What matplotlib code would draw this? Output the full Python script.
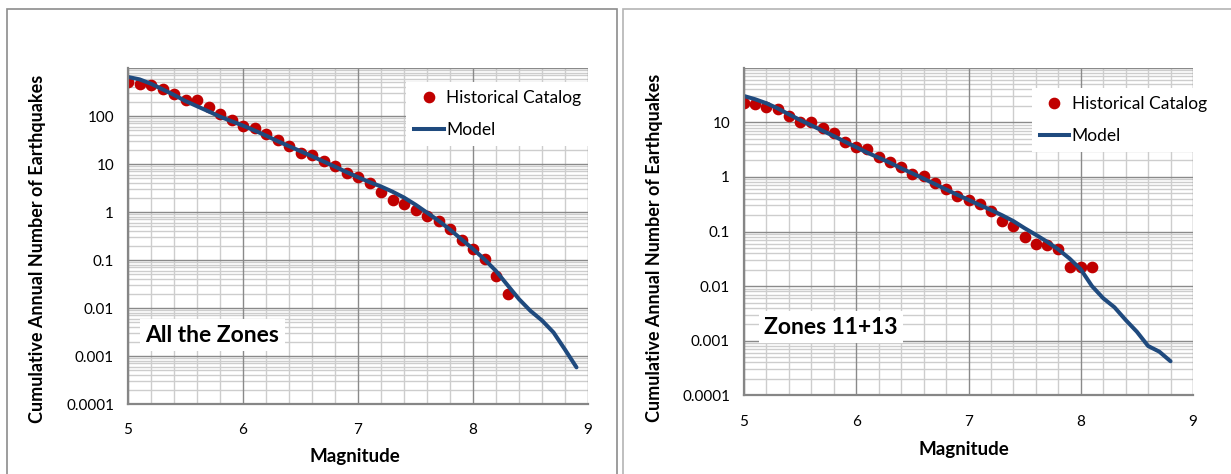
import matplotlib
matplotlib.use("Agg")
import matplotlib.pyplot as plt
from matplotlib.patches import Rectangle
from matplotlib.lines import Line2D

plt.rcParams['font.family'] = ['Lato', 'DejaVu Sans']

# --- data ------------------------------------------------------------------
mag_all_cat = [5.0, 5.1, 5.2, 5.3, 5.4, 5.5, 5.6, 5.7, 5.8, 5.9,
               6.0, 6.1, 6.2, 6.3, 6.4, 6.5, 6.6, 6.7, 6.8, 6.9,
               7.0, 7.1, 7.2, 7.3, 7.4, 7.5, 7.6, 7.7, 7.8, 7.9,
               8.0, 8.1, 8.2, 8.3]
rate_all_cat = [506, 469, 432, 369, 291, 219, 211, 153, 108, 81,
                61, 57.5, 41.8, 31.4, 23.6, 16.7, 15.4, 11.5, 9.1, 6.4,
                5.3, 4.1, 2.55, 1.74, 1.49, 1.12, 0.84, 0.64, 0.45, 0.258,
                0.166, 0.103, 0.0465, 0.0197]

mag_all_model = [5.0, 5.1, 5.2, 5.3, 5.4, 5.5, 5.6, 5.7, 5.8, 5.9,
                 6.0, 6.1, 6.2, 6.3, 6.4, 6.5, 6.6, 6.7, 6.8, 6.9,
                 7.0, 7.1, 7.2, 7.3, 7.4, 7.5, 7.6, 7.7, 7.8, 7.9,
                 8.0, 8.1, 8.2, 8.3, 8.4, 8.5, 8.6, 8.7, 8.8, 8.9]
rate_all_model = [650, 580, 470, 360, 275, 205, 160, 125, 97, 78,
                  63, 50, 39, 30, 23.5, 18.5, 14.5, 11.3, 8.8, 6.8,
                  5.3, 4.2, 3.4, 2.65, 2.0, 1.42, 0.97, 0.66, 0.43, 0.27,
                  0.17, 0.103, 0.059, 0.030, 0.0153, 0.0087, 0.0055, 0.0031, 0.00136, 0.00058]

mag_z_cat = [5.0, 5.1, 5.2, 5.3, 5.4, 5.5, 5.6, 5.7, 5.8, 5.9,
             6.0, 6.1, 6.2, 6.3, 6.4, 6.5, 6.6, 6.7, 6.8, 6.9,
             7.0, 7.1, 7.2, 7.3, 7.4, 7.5, 7.6, 7.7, 7.8, 7.9,
             8.0, 8.1]
rate_z_cat = [22.9, 21.4, 19.3, 17.3, 13.2, 10.3, 10.0, 7.8, 6.5, 4.4,
              3.57, 3.28, 2.29, 1.87, 1.5, 1.13, 1.04, 0.76, 0.6, 0.45,
              0.38, 0.32, 0.24, 0.156, 0.124, 0.080, 0.058, 0.0566, 0.047, 0.0227,
              0.0227, 0.0227]

mag_z_model = [5.0, 5.1, 5.2, 5.3, 5.4, 5.5, 5.6, 5.7, 5.8, 5.9,
               6.0, 6.1, 6.2, 6.3, 6.4, 6.5, 6.6, 6.7, 6.8, 6.9,
               7.0, 7.1, 7.2, 7.3, 7.4, 7.5, 7.6, 7.7, 7.8, 7.9,
               8.0, 8.1, 8.2, 8.3, 8.4, 8.5, 8.6, 8.7, 8.8]
rate_z_model = [30.3, 26.4, 22.3, 18, 14, 11, 8.8, 7.0, 5.6, 4.4,
                3.5, 2.77, 2.25, 1.82, 1.44, 1.16, 0.93, 0.74, 0.59, 0.47,
                0.38, 0.305, 0.248, 0.198, 0.155, 0.115, 0.087, 0.065, 0.047, 0.032,
                0.0203, 0.010, 0.0060, 0.0041, 0.0024, 0.00146, 0.0008, 0.00063, 0.00042]

yticks_all = [0.0001, 0.001, 0.01, 0.1, 1, 10, 100, 1000]
ylabels_all = ["0.0001", "0.001", "0.01", "0.1", "1", "10", "100", ""]
yticks_z = [0.0001, 0.001, 0.01, 0.1, 1, 10, 100]
ylabels_z = ["0.0001", "0.001", "0.01", "0.1", "1", "10", ""]
xticks = [5, 6, 7, 8, 9]

RED = "#c00000"
BLUE = "#1f4a7e"
MAJOR = "#8a8a8a"
MINOR = "#cdcdcd"

W, H = 1231, 474
fig = plt.figure(figsize=(W / 100, H / 100), dpi=100)


def px_axes(x0, y0, x1, y1):
    # pixel box (top-left origin) -> figure fraction rect
    return [x0 / W, 1 - y1 / H, (x1 - x0) / W, (y1 - y0) / H]


def draw_panel(rect, mag_c, rate_c, mag_m, rate_m, yticks, ylabels,
               label, label_xy, leg_box, ylab_xy, xlab_xy):
    ax = fig.add_axes(rect)
    ax.set_yscale("log")
    ax.set_xlim(5, 9)
    ax.set_ylim(yticks[0], yticks[-1])

    # grid: minor first, major on top
    for m in [5 + 0.2 * i for i in range(21)]:
        if abs(m - round(m)) > 1e-6:
            ax.axvline(m, color=MINOR, lw=1.0, zorder=0)
    for i in range(len(yticks) - 1):
        for k in range(2, 10):
            ax.axhline(yticks[i] * k, color=MINOR, lw=1.0, zorder=0)
    for m in xticks:
        ax.axvline(m, color=MAJOR, lw=1.0, zorder=0.5)
    for t in yticks:
        ax.axhline(t, color=MAJOR, lw=1.0, zorder=0.5)

    ax.plot(mag_m, rate_m, color=BLUE, lw=2.9, solid_capstyle="round",
            zorder=3, label="Model")
    ax.plot(mag_c, rate_c, "o", color=RED, ms=7.4, mec=RED, zorder=2,
            label="Historical Catalog")

    ax.set_xticks(xticks)
    ax.set_xticklabels([str(x) for x in xticks], fontsize=11)
    ax.set_yticks(yticks)
    ax.set_yticklabels(ylabels, fontsize=11)
    ax.minorticks_off()
    ax.tick_params(axis="both", length=0)
    ax.tick_params(axis="y", pad=10)
    ax.tick_params(axis="x", pad=14)

    for side in ["top", "right"]:
        ax.spines[side].set_visible(False)
    for side in ["left", "bottom"]:
        ax.spines[side].set_color("#868686")
        ax.spines[side].set_linewidth(1.6)
        ax.spines[side].set_zorder(4)

    ax.set_ylabel("Cumulative Annual Number of Earthquakes", fontsize=13,
                  fontweight="bold")
    ax.yaxis.set_label_coords(*ylab_xy)
    ax.set_xlabel("Magnitude", fontsize=13.5, fontweight="bold")
    ax.xaxis.set_label_coords(*xlab_xy)

    ax.text(label_xy[0], label_xy[1], label, transform=ax.transAxes,
            ha="center", va="center", fontsize=16.5, fontweight="bold",
            zorder=5,
            bbox=dict(facecolor="white", edgecolor="none", pad=4))

    # legend box (white background) with handles like the reference
    handles = [
        Line2D([], [], marker="o", ls="none", color=RED, ms=7.4),
        Line2D([], [], color=BLUE, lw=2.9),
    ]
    leg = ax.legend(handles, ["Historical Catalog", "Model"],
                    loc="upper left", bbox_to_anchor=leg_box,
                    frameon=True, fancybox=False, framealpha=1,
                    facecolor="white", edgecolor="none", fontsize=12.5,
                    handlelength=1.7, handletextpad=0.15, labelspacing=0.95,
                    borderpad=0.45, borderaxespad=0)
    leg.set_zorder(6)
    return ax


draw_panel(px_axes(128, 68, 588, 404), mag_all_cat, rate_all_cat,
           mag_all_model, rate_all_model, yticks_all, ylabels_all,
           "All the Zones", (0.183, 0.205), (0.605, 0.958),
           (-0.179, 0.463), (0.493, -0.131))

draw_panel(px_axes(744, 67.7, 1193, 395.3), mag_z_cat, rate_z_cat,
           mag_z_model, rate_z_model, yticks_z, ylabels_z,
           "Zones 11+13", (0.194, 0.208), (0.641, 0.938),
           (-0.181, 0.451), (0.49, -0.14))

# chart-area frames
fig.add_artist(Rectangle((7 / W, -0.05), (617 - 7) / W, 1.05 - 9 / H,
                         transform=fig.transFigure, fill=False,
                         edgecolor="#8c8c8c", lw=1.2))
fig.add_artist(Rectangle((623 / W, -0.05), (1240 - 623) / W, 1.05 - 9 / H,
                         transform=fig.transFigure, fill=False,
                         edgecolor="#b4b4b4", lw=1.2))

fig.savefig("out.png", dpi=100)
